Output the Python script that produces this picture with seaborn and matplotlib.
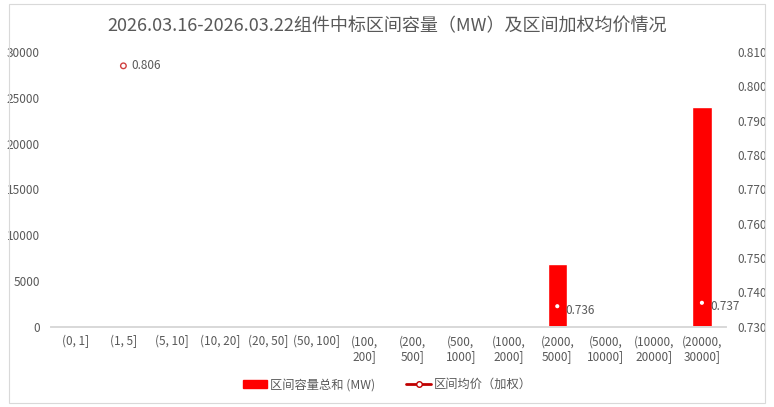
import numpy as np
import pandas as pd
import seaborn as sns
import matplotlib.pyplot as plt
from matplotlib.lines import Line2D
from matplotlib.patches import Patch

# Data
categories = ["(0, 1]", "(1, 5]", "(5, 10]", "(10, 20]", "(20, 50]", "(50, 100]",
              "(100,\n200]", "(200,\n500]", "(500,\n1000]", "(1000,\n2000]",
              "(2000,\n5000]", "(5000,\n10000]", "(10000,\n20000]", "(20000,\n30000]"]
capacity = [0, 0, 0, 0, 0, 0, 0, 0, 0, 0, 6900, 0, 0, 24000]
price = [np.nan, 0.806, np.nan, np.nan, np.nan, np.nan, np.nan, np.nan,
         np.nan, np.nan, 0.736, np.nan, np.nan, 0.737]

title = "2026.03.16-2026.03.22组件中标区间容量（MW）及区间加权均价情况"
bar_label = "区间容量总和 (MW)"
line_label = "区间均价（加权）"

sns.set_theme(style="white")
plt.rcParams['font.family'] = ['Noto Sans CJK SC', 'DejaVu Sans']

red = "#ff0000"
gray = "#595959"

df = pd.DataFrame({"cat": categories, "cap": capacity, "price": price,
                   "pos": np.arange(len(categories))})

fig = plt.figure(figsize=(7.74, 4.07), dpi=100)
ax = fig.add_axes([0.066, 0.197, 0.872, 0.675])

sns.barplot(data=df, x="cat", y="cap", order=categories, color=red,
            saturation=1, width=0.4, ax=ax)
ax.set_ylim(0, 30000)
ax.set_yticks(np.arange(0, 30001, 5000))
ax.set_xlim(-0.5, len(categories) - 0.5)
ax.set_xlabel("")
ax.set_ylabel("")
ax.tick_params(axis="y", labelsize=8.5, colors=gray, length=0, pad=8)
ax.tick_params(axis="x", labelsize=8.5, colors=gray, length=0, pad=6)
for s in ["top", "right", "left"]:
    ax.spines[s].set_visible(False)
ax.spines["bottom"].set_color("#d9d9d9")
ax.set_xticks(np.arange(-0.5, len(categories)), minor=True)
ax.tick_params(axis="x", which="minor", length=5, color="#d9d9d9")

ax2 = ax.twinx()
pts = df.dropna(subset=["price"])
edges = ["#d04040" if c == 0 else "#ff0000" for c in pts["cap"]]
ax2.scatter(pts["pos"], pts["price"], marker="o", s=16, facecolor="white",
            edgecolor=edges, linewidth=1.0, zorder=5)
for _, r in pts.iterrows():
    dy = 0 if r["cap"] == 0 else -3
    ax2.annotate(f"{r['price']:.3f}", (r["pos"], r["price"]),
                 xytext=(6, dy), textcoords="offset points",
                 fontsize=8.5, color=gray, va="center")
ax2.set_ylim(0.73, 0.81)
ticks2 = np.arange(0.73, 0.8101, 0.01)
ax2.set_yticks(ticks2)
ax2.set_yticklabels([f"{v:.3f}" for v in ticks2])
ax2.set_xlabel("")
ax2.set_ylabel("")
ax2.tick_params(axis="y", labelsize=8.5, colors=gray, length=0, pad=8)
for s in ax2.spines.values():
    s.set_visible(False)
ax2.spines["bottom"].set_visible(True)
ax2.spines["bottom"].set_color("#d9d9d9")

fig.suptitle(title, y=0.958, fontsize=13, color=gray)

handles = [Patch(facecolor=red, edgecolor=red),
           Line2D([0], [0], color="#c00000", lw=2, marker="o", markersize=4,
                  markerfacecolor="white", markeredgecolor="#c00000")]
fig.legend(handles, [bar_label, line_label], loc="lower center",
           bbox_to_anchor=(0.5, 0.012), ncol=2, frameon=False, fontsize=8.8,
           labelcolor=gray, handlelength=2.0, handleheight=0.6, columnspacing=2.6,
           handletextpad=0.2)

fig.patches.append(plt.Rectangle((0.012, 0.01), 0.976, 0.98, transform=fig.transFigure,
                                 fill=False, edgecolor="#d9d9d9", lw=0.8))

fig.savefig("out.png", dpi=100)
